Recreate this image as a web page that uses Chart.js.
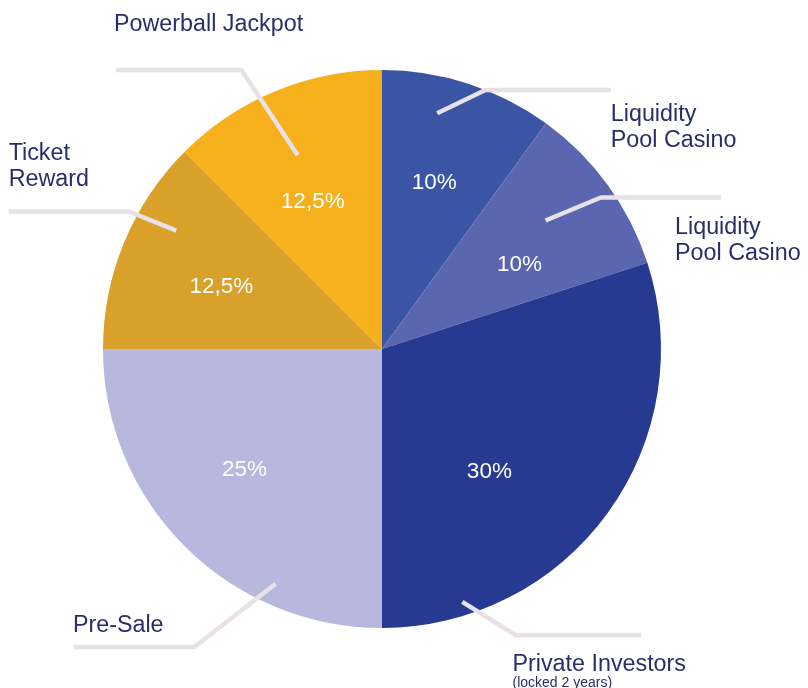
<!DOCTYPE html>
<html>
<head>
<meta charset="utf-8">
<script src="https://cdn.jsdelivr.net/npm/chart.js@4.4.0/dist/chart.umd.min.js"></script>
<style>
  html, body { margin: 0; padding: 0; background: #fff; }
  #pie { display: block; }
</style>
</head>
<body>
<canvas id="pie" width="808" height="688"></canvas>
<script>
// slices clockwise from 12 o'clock
const names = ['Liquidity Pool Casino', 'Liquidity Pool Casino', 'Private Investors', 'Pre-Sale', 'Ticket Reward', 'Powerball Jackpot'];
const shares = [10, 10, 30, 25, 12.5, 12.5];
const shareText = ['10%', '10%', '30%', '25%', '12,5%', '12,5%'];
const sliceColors = ['#3a55a4', '#5b66b0', '#263a91', '#b6b9dd', '#d9a12a', '#f5b01c'];

// callout text lines for each slice
const calloutLines = [
  ['Liquidity', 'Pool Casino'],
  ['Liquidity', 'Pool Casino'],
  ['Private Investors'],
  ['Pre-Sale'],
  ['Ticket', 'Reward'],
  ['Powerball Jackpot'],
];

// layout of callouts, offsets from pie centre at radius 278
const calloutLayout = [
  { line: [[55, -235], [103, -258], [228, -258]], text: [228, -234] },
  { line: [[163, -128], [218, -151], [338, -151]], text: [292, -121] },
  { line: [[80, 252], [133, 285], [258, 285]], text: [130, 314], sub: '(locked 2 years)' },
  { line: [[-106, 234], [-187, 297], [-307, 297]], text: [-308, 276] },
  { line: [[-205, -118], [-252, -137], [-372, -137]], text: [-372, -195] },
  { line: [[-84, -193], [-140, -278], [-265, -278]], text: [-267, -323] },
];
// inner percentage labels, offsets from centre
const pctLayout = [[52, -166], [137, -84], [107, 122], [-137, 120], [-160, -62], [-69, -147]];

const callouts = {
  id: 'callouts',
  afterDatasetsDraw(chart) {
    const ctx = chart.ctx;
    const arc = chart.getDatasetMeta(0).data[0];
    const cx = arc.x, cy = arc.y, k = arc.outerRadius / 278;
    const P = (p) => [cx + p[0] * k, cy + p[1] * k];
    ctx.save();

    // leader lines
    ctx.strokeStyle = '#e8e1e8';
    ctx.lineWidth = 4.5;
    ctx.lineJoin = 'round';
    calloutLayout.forEach((c) => {
      ctx.beginPath();
      c.line.forEach((p, j) => {
        const [x, y] = P(p);
        if (j === 0) ctx.moveTo(x, y); else ctx.lineTo(x, y);
      });
      ctx.stroke();
    });

    // percentages
    ctx.fillStyle = '#ffffff';
    ctx.font = '22.5px "Liberation Sans", Arial, sans-serif';
    ctx.textAlign = 'center';
    ctx.textBaseline = 'middle';
    shareText.forEach((t, i) => {
      const [x, y] = P(pctLayout[i]);
      ctx.fillText(t, x, y);
    });

    // slice names
    ctx.fillStyle = '#2b2d6b';
    ctx.textAlign = 'left';
    calloutLines.forEach((lines, i) => {
      const c = calloutLayout[i];
      const [x, y] = P(c.text);
      ctx.font = '23.3px "Liberation Sans", Arial, sans-serif';
      lines.forEach((l, j) => ctx.fillText(l, x, y + j * 26.5));
      if (c.sub) {
        ctx.font = '14px "Liberation Sans", Arial, sans-serif';
        ctx.fillText(c.sub, x, y + 19);
      }
    });
    ctx.restore();
  }
};

new Chart(document.getElementById('pie'), {
  type: 'pie',
  data: {
    labels: names,
    datasets: [{
      data: shares,
      backgroundColor: sliceColors,
      borderWidth: 0,
    }],
  },
  options: {
    responsive: false,
    animation: false,
    layout: { padding: { left: 102, right: 146, top: 70, bottom: 60 } },
    plugins: {
      legend: { display: false },
      tooltip: { enabled: false },
    },
  },
  plugins: [callouts],
});
</script>
</body>
</html>
